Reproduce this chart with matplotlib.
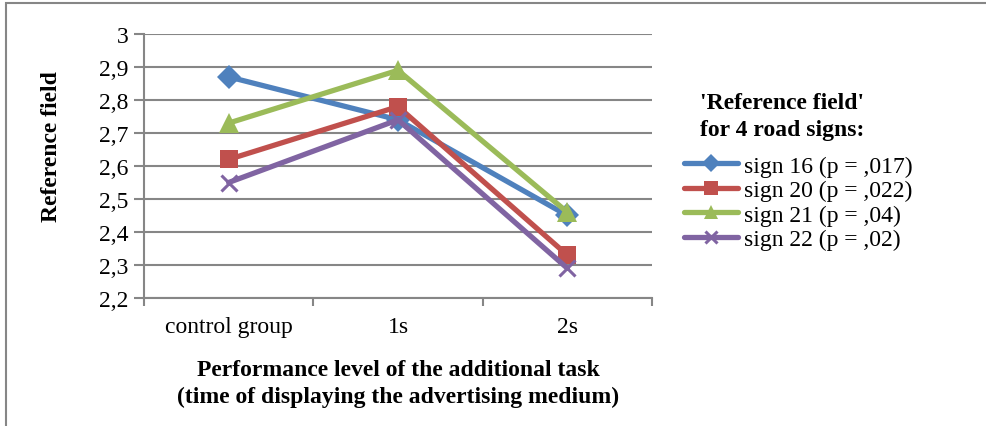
import matplotlib.pyplot as plt
from matplotlib.patches import Rectangle

# Data for the plot
categories = ['control group', '1s', '2s']
series_names = ['sign 16 (p = ,017)', 'sign 20 (p = ,022)',
                'sign 21 (p = ,04)', 'sign 22 (p = ,02)']
values = [
    [2.87, 2.74, 2.45],  # sign 16
    [2.62, 2.78, 2.33],  # sign 20
    [2.73, 2.89, 2.46],  # sign 21
    [2.55, 2.74, 2.29],  # sign 22
]
y_ticks = [2.2, 2.3, 2.4, 2.5, 2.6, 2.7, 2.8, 2.9, 3.0]

colors = ['#4F81BD', '#C0504D', '#9BBB59', '#8064A2']
markers = ['D', 's', '^', 'x']
msizes = [12, 13, 14, 12]
FS = 17

plt.rcParams['font.family'] = ['Liberation Serif', 'DejaVu Serif']

fig = plt.figure(figsize=(9.87, 4.27), dpi=100)
ax = fig.add_axes([144 / 987, 1 - 299 / 427, 508 / 987, 264 / 427])

x = range(len(categories))
handles = []
for i, name in enumerate(series_names):
    line, = ax.plot(x, values[i], color=colors[i], lw=3.8, marker=markers[i],
                    ms=msizes[i], mew=2.2 if markers[i] == 'x' else 0,
                    mec=colors[i], label=name, solid_capstyle='round')
    handles.append(line)

ax.set_xlim(-0.5, 2.5)
ax.set_ylim(2.2, 3.0)
ax.set_yticks(y_ticks)
ax.set_yticklabels([('%g' % v).replace('.', ',') for v in y_ticks])
ax.set_xticks([-0.5, 0.5, 1.5, 2.5])
ax.set_xticklabels([])
ax.set_xticks(list(x), categories, minor=True)
ax.tick_params(axis='x', which='minor', length=0, pad=13, labelsize=FS)
ax.tick_params(axis='x', which='major', length=6, width=1.5, color='#868686', direction='out')
ax.tick_params(axis='y', length=7, width=1.5, color='#868686', labelsize=FS, pad=4)

ax.grid(axis='y', color='#868686', lw=1.5)
ax.set_axisbelow(True)
for s in ['top', 'right']:
    ax.spines[s].set_visible(False)
for s in ['left', 'bottom']:
    ax.spines[s].set_color('#868686')
    ax.spines[s].set_linewidth(1.5)

fig.text(52 / 987, 1 - 147 / 427, 'Reference field', rotation=90, fontsize=FS,
         fontweight='bold', ha='center', va='center')
fig.text(398 / 987, 1 - 384 / 427,
         'Performance level of the additional task\n(time of displaying the advertising medium)',
         fontsize=FS, fontweight='bold', ha='center', va='center', linespacing=1.32)

fig.text(700 / 987, 1 - 117 / 427, "'Reference field'\nfor 4 road signs:", fontsize=FS,
         fontweight='bold', ha='left', va='center', linespacing=1.38)
fig.legend(handles=handles, loc='upper left', bbox_to_anchor=(684 / 987, 1 - 156 / 427),
           frameon=False, fontsize=FS, handlelength=2.3, handletextpad=0.25,
           labelspacing=0.13, borderpad=0, borderaxespad=0, markerscale=0.75)

# outer chart border
fig.patches.append(Rectangle((6 / 987, -0.1), 1.2, 1 - 4 / 427 + 0.1, transform=fig.transFigure,
                             fill=False, ec='#868686', lw=1.5))

fig.savefig('out.png', dpi=100)
